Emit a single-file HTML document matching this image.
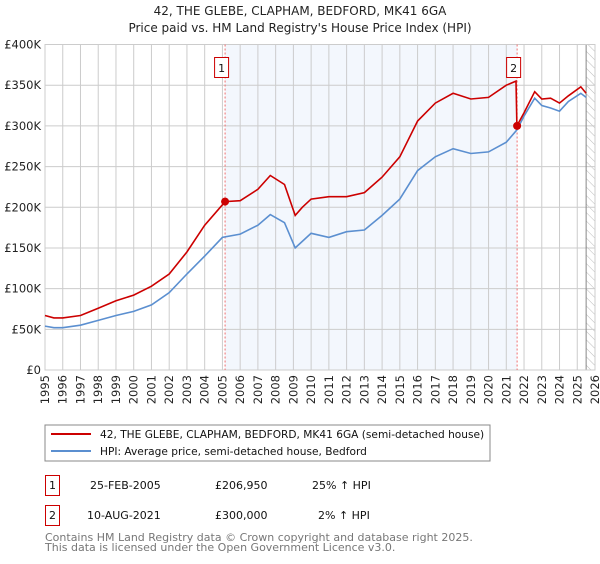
<!DOCTYPE html>
<html><head><meta charset="utf-8"><style>
body{margin:0;background:#fff;width:600px;height:560px;overflow:hidden;font-family:"DejaVu Sans","Liberation Sans",sans-serif}
svg text{font-family:"DejaVu Sans","Liberation Sans",sans-serif}
</style></head><body>
<svg id="c" width="600" height="560" xmlns="http://www.w3.org/2000/svg">
<defs><pattern id="hatch" width="6" height="6" patternUnits="userSpaceOnUse" patternTransform="rotate(-45)"><line x1="0" y1="0" x2="0" y2="6" stroke="#bbb" stroke-width="1"/></pattern></defs>
<text x="300" y="15" text-anchor="middle" font-size="12" fill="#222">42, THE GLEBE, CLAPHAM, BEDFORD, MK41 6GA</text>
<text x="300" y="32" text-anchor="middle" font-size="12" fill="#222">Price paid vs. HM Land Registry's House Price Index (HPI)</text>
<g id="plot"></g>
<g>
<rect x="45" y="425" width="445" height="36" fill="#fff" stroke="#888"/>
<line x1="51" y1="434" x2="91" y2="434" stroke="#cc0000" stroke-width="2"/>
<text x="100" y="438" font-size="10.6" fill="#111">42, THE GLEBE, CLAPHAM, BEDFORD, MK41 6GA (semi-detached house)</text>
<line x1="51" y1="451" x2="91" y2="451" stroke="#5b8fd0" stroke-width="2"/>
<text x="100" y="455" font-size="10.6" fill="#111">HPI: Average price, semi-detached house, Bedford</text>
</g>
<g font-size="11" fill="#111">
<rect x="45.5" y="475.5" width="14" height="20" fill="#fff" stroke="#cc0000"/>
<text x="52.5" y="489" text-anchor="middle">1</text>
<text x="90" y="489">25-FEB-2005</text>
<text x="215" y="489">£206,950</text>
<text x="312" y="489">25% ↑ HPI</text>
<rect x="45.5" y="505.5" width="14" height="20" fill="#fff" stroke="#cc0000"/>
<text x="52.5" y="519" text-anchor="middle">2</text>
<text x="87" y="519">10-AUG-2021</text>
<text x="215" y="519">£300,000</text>
<text x="318" y="519">2% ↑ HPI</text>
</g>
<text x="45" y="541" font-size="11" fill="#777">Contains HM Land Registry data © Crown copyright and database right 2025.</text>
<text x="45" y="551" font-size="11" fill="#777">This data is licensed under the Open Government Licence v3.0.</text>
</svg>
<script>
const yTicks=[0,50,100,150,200,250,300,350,400];
const yTickLabels=["£0","£50K","£100K","£150K","£200K","£250K","£300K","£350K","£400K"];
const xYears=[1995,1996,1997,1998,1999,2000,2001,2002,2003,2004,2005,2006,2007,2008,2009,2010,2011,2012,2013,2014,2015,2016,2017,2018,2019,2020,2021,2022,2023,2024,2025,2026];
const hpiT=[1995,1995.5,1996,1997,1998,1999,2000,2001,2002,2003,2004,2005,2006,2007,2007.7,2008.5,2009.1,2009.5,2010,2011,2012,2013,2014,2015,2016,2017,2018,2019,2020,2021,2021.6,2022,2022.6,2023,2023.5,2024,2024.5,2025.2,2025.5];
const hpiV=[54,52,52,55,61,67,72,80,95,118,140,163,167,178,191,181,150,158,168,163,170,172,190,210,245,262,272,266,268,280,295,312,334,325,322,318,330,340,335];
const redT=[1995,1995.5,1996,1997,1998,1999,2000,2001,2002,2003,2004,2005,2005.15,2006,2007,2007.7,2008.5,2009.1,2009.5,2010,2011,2012,2013,2014,2015,2016,2017,2018,2019,2020,2021,2021.55,2021.6,2022,2022.6,2023,2023.5,2024,2024.5,2025.2,2025.5];
const redV=[67,64,64,67,76,85,92,103,118,145,178,203,207,208,222,239,228,190,200,210,213,213,218,237,262,306,328,340,333,335,350,355,300,316,342,333,334,328,337,348,340];
const sales=[{t:2005.15,v:206.95,n:"1"},{t:2021.61,v:300,n:"2"}];
const X0=45,X1=595,Y0=370,Y1=44.5,T0=1995,T1=2026,V1=400;
const xs=t=>X0+(t-T0)/(T1-T0)*(X1-X0);
const ys=v=>Y0-v/V1*(Y0-Y1);
const NS="http://www.w3.org/2000/svg";
const g=document.getElementById('plot');
function mk(tag,a,p){const e=document.createElementNS(NS,tag);for(const k in a)e.setAttribute(k,a[k]);(p||g).appendChild(e);return e;}
let e;
e=mk('rect',{x:xs(sales[0].t),y:Y1,width:xs(sales[1].t)-xs(sales[0].t),height:Y0-Y1,fill:'#eef3fc',opacity:0.7});


e=mk('rect',{x:xs(2025.5),y:Y1,width:X1-xs(2025.5),height:Y0-Y1,fill:'url(#hatch)'});


yTicks.forEach((v,i)=>{
  e=mk('line',{x1:X0,x2:X1,y1:ys(v),y2:ys(v),stroke:'#ccc'});
  
  
  e=mk('text',{x:X0-4,y:ys(v)+4,'text-anchor':'end','font-size':'11.5',fill:'#222'});
  e.textContent=yTickLabels[i];
  
  
});
xYears.forEach(t=>{
  e=mk('line',{x1:xs(t),x2:xs(t),y1:Y1,y2:Y0,stroke:'#ccc'});
  
  
  e=mk('text',{transform:`translate(${xs(t)+4},${Y0+5}) rotate(-90)`,'text-anchor':'end','font-size':'11.5',fill:'#222'});
  e.textContent=t;
  
  
});
e=mk('line',{x1:xs(2025.5),x2:xs(2025.5),y1:Y1,y2:Y0,stroke:'#888'});


e=mk('rect',{x:X0,y:Y1,width:X1-X0,height:Y0-Y1,fill:'none',stroke:'#ccc'});


sales.forEach(s=>{
  e=mk('line',{x1:xs(s.t),x2:xs(s.t),y1:Y1,y2:Y0,stroke:'#f07070','stroke-dasharray':'2,2'});
  
  
});
const pts=(T,V)=>T.map((t,i)=>xs(t).toFixed(1)+','+ys(V[i]).toFixed(1)).join(' ');
e=mk('polyline',{points:pts(hpiT,hpiV),fill:'none',stroke:'#5b8fd0','stroke-width':1.6});


e=mk('polyline',{points:pts(redT,redV),fill:'none',stroke:'#cc0000','stroke-width':1.6});


sales.forEach(s=>{
  e=mk('circle',{cx:xs(s.t),cy:ys(s.v),r:4,fill:'#cc0000'});
  
  
  e=mk('rect',{x:xs(s.t)-10.5,y:57.5,width:14,height:20,fill:'#fff',stroke:'#cc0000'});
  
  
  e=mk('text',{x:xs(s.t)-3.5,y:72,'text-anchor':'middle','font-size':'11',fill:'#111'});
  e.textContent=s.n;
  
  
});
</script>
</body></html>
